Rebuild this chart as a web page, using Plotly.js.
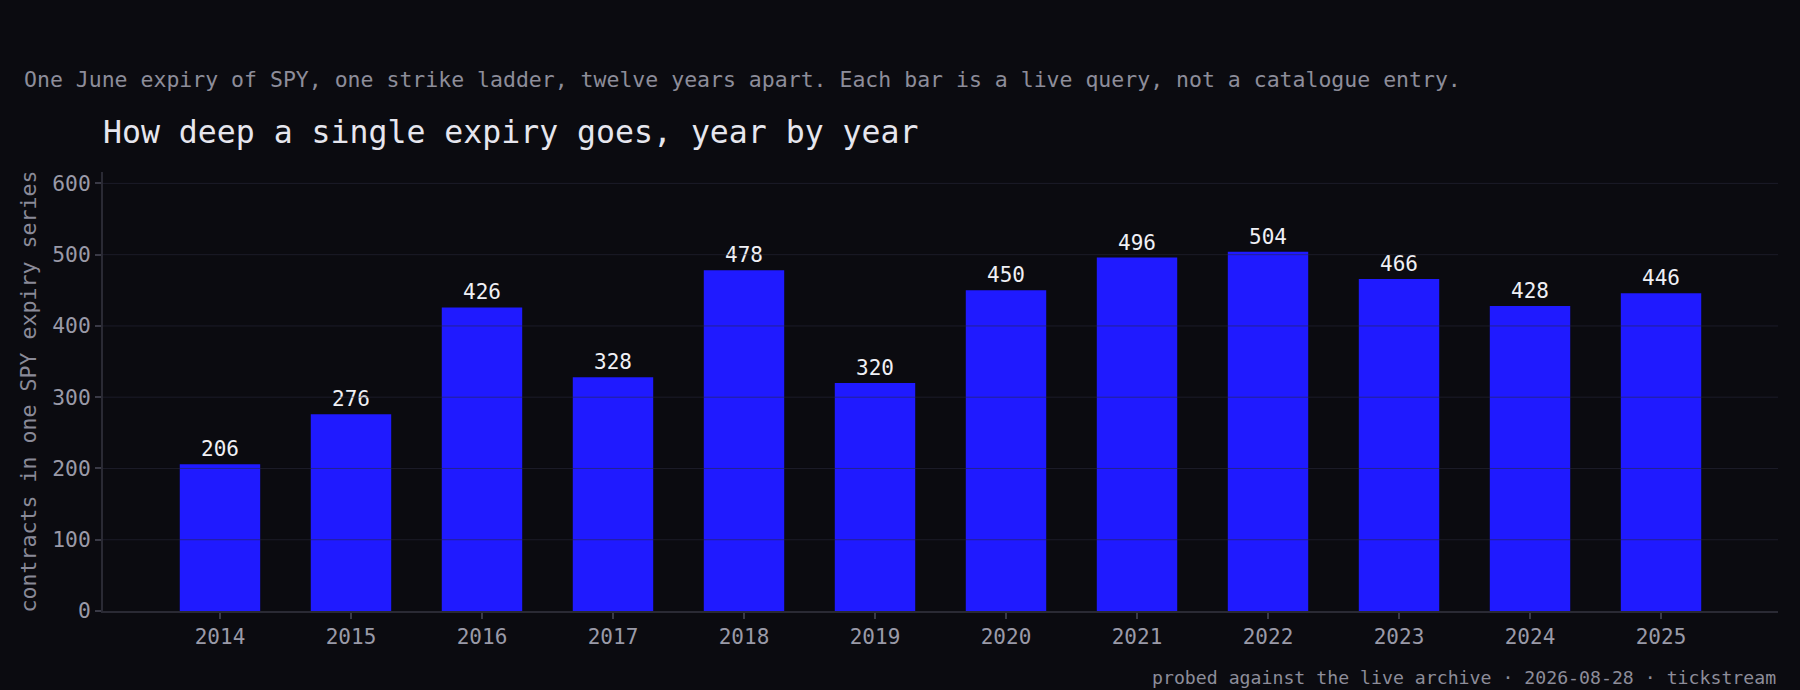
<!DOCTYPE html>
<html>
<head>
<meta charset="utf-8">
<script src="https://cdn.plot.ly/plotly-3.0.1.min.js"></script>
<style>
  html, body { margin: 0; padding: 0; background: #0b0b10; }
  #chart { width: 1800px; height: 690px; }
</style>
</head>
<body>
<div id="chart"></div>
<script>
const years = ["2014","2015","2016","2017","2018","2019","2020","2021","2022","2023","2024","2025"];
const contracts = [206, 276, 426, 328, 478, 320, 450, 496, 504, 466, 428, 446];
const yTicks = [0, 100, 200, 300, 400, 500, 600];

const titleText = "How deep a single expiry goes, year by year";
const subtitleText = "One June expiry of SPY, one strike ladder, twelve years apart. Each bar is a live query, not a catalogue entry.";
const footerText = "probed against the live archive · 2026-08-28 · tickstream";
const yTitleText = "contracts in one SPY expiry series";

const FONT = "DejaVu Sans Mono, monospace";
const BG = "#0b0b10";

const gridShapes = yTicks.filter(v => v > 0).map(v => ({
  type: "line", xref: "paper", yref: "y",
  x0: 0, x1: 1, y0: v, y1: v,
  line: { color: "rgba(42,42,60,0.55)", width: 1 },
  layer: "above"
}));

const trace = {
  type: "bar",
  x: years,
  y: contracts,
  width: 0.614,
  marker: { color: "#1f1aff", line: { width: 0 } },
  text: contracts.map(String),
  textposition: "outside",
  cliponaxis: false,
  textfont: { family: FONT, size: 21, color: "#f0f0f5" },
  hoverinfo: "x+y"
};

const layout = {
  width: 1800, height: 690,
  paper_bgcolor: BG, plot_bgcolor: BG,
  margin: { l: 103, r: 22, t: 172, b: 79 },
  showlegend: false,
  font: { family: FONT, color: "#9a9aa8", size: 21 },
  title: {
    text: titleText,
    font: { family: FONT, size: 31.5, color: "#e6e6ee" },
    xref: "paper", x: 0, xanchor: "left",
    yref: "container", y: 1 - 132/690, yanchor: "middle"
  },
  xaxis: {
    type: "category",
    range: [-0.893, 11.893],
    showline: true, linecolor: "#2a2a34", linewidth: 2,
    ticks: "outside", ticklen: 6, tickcolor: "#3a3a46", tickwidth: 2,
    showgrid: false, zeroline: false,
    tickfont: { family: FONT, size: 21, color: "#9a9aa8" },
    fixedrange: true
  },
  yaxis: {
    range: [0, 616],
    tickvals: yTicks,
    showline: true, linecolor: "#2a2a34", linewidth: 2,
    ticks: "outside", ticklen: 6, tickcolor: "#3a3a46", tickwidth: 2,
    showgrid: false, zeroline: false,
    tickfont: { family: FONT, size: 21.3, color: "#9a9aa8" },
    title: { text: yTitleText, font: { family: FONT, size: 21.6, color: "#8a8a98" }, standoff: 10 },
    automargin: false,
    fixedrange: true
  },
  shapes: gridShapes,
  annotations: [
    {
      text: subtitleText, showarrow: false,
      xref: "paper", x: (22 - 103) / 1675, xanchor: "left",
      yref: "paper", y: (611 - 79) / 439, yanchor: "middle",
      font: { family: FONT, size: 21.5, color: "#8d8d9a" }
    },
    {
      text: footerText, showarrow: false,
      xref: "paper", x: 1, xanchor: "right",
      yref: "paper", y: (611 - 677) / 439, yanchor: "middle",
      font: { family: FONT, size: 18.2, color: "#8d8d9a" }
    }
  ]
};

Plotly.newPlot("chart", [trace], layout, { displayModeBar: false, staticPlot: true });
</script>
</body>
</html>
